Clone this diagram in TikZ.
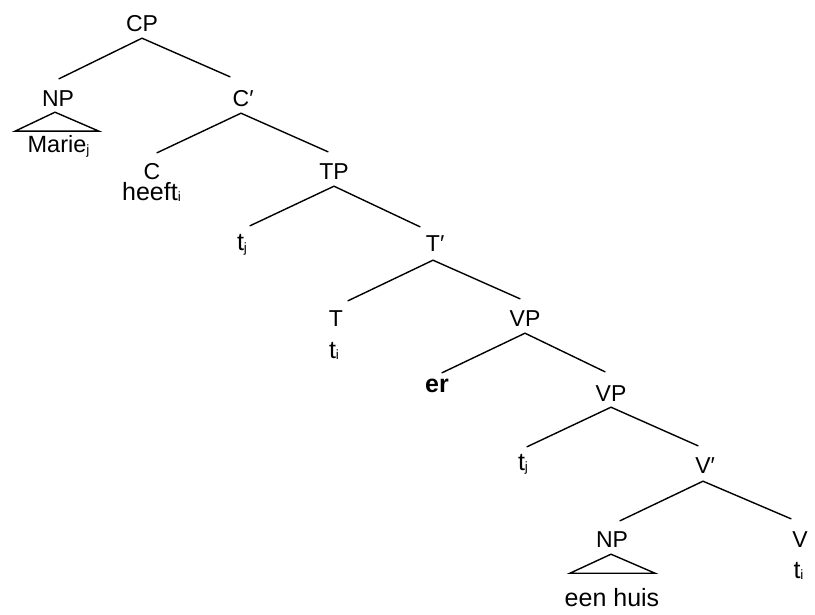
\documentclass[tikz,border=0pt]{standalone}
\usepackage{fontspec}
\setmainfont{Liberation Sans}
% small lowered index that does not widen its node
\newcommand\lowsub[1]{\rlap{\raisebox{-1.5pt}{\fontsize{13.5}{13.5}\selectfont #1}}}
% bar-level prime that does not shift the category's centre
\newcommand\barprime{\rlap{′}}
\begin{document}
\begin{tikzpicture}[x=1pt,y=-1pt,
  cat/.style={font=\fontsize{23}{23}\selectfont, inner sep=0pt,
              text height=16.5pt, text depth=0pt, anchor=base},
  word/.style={cat, font=\fontsize{25}{25}\selectfont},
  branch/.style={line width=1.4pt, line cap=round},
  roof/.style={line width=1.4pt, line join=miter}]
\useasboundingbox (0,0) rectangle (815,615);

% categories and words (x centre, baseline)
\node[cat]  (CP)    at (142,32)    {CP};
\node[cat]  (NPa)   at (58,107)    {NP};
\node[cat]  (Cbar)  at (241,107)   {C\barprime};
\node[cat]  (Mar)   at (57,153)    {\fontsize{23.5}{23.5}\selectfont Marie\lowsub{j}};
\node[cat]  (C)     at (152,180)   {C};
\node[word] (heeft) at (150,200.5) {heeft\lowsub{i}};
\node[cat]  (TP)    at (334,180)   {TP};
\node[word] (tja)   at (240.5,251) {t\lowsub{j}};
\node[cat]  (Tbar)  at (433,252)   {T\barprime};
\node[cat]  (T)     at (336,326)   {T};
\node[word] (tia)   at (332.5,358) {t\lowsub{i}};
\node[cat]  (VPa)   at (525,326)   {VP};
\node[word] (er)    at (437,392)   {\bfseries er};
\node[cat]  (VPb)   at (611,401)   {VP};
\node[word] (tjb)   at (521.5,470) {t\lowsub{j}};
\node[cat]  (Vbar)  at (703,473)   {V\barprime};
\node[cat]  (NPb)   at (612,547)   {NP};
\node[word] (huis)  at (612,606.5) {een huis};
\node[cat]  (V)     at (800,547)   {V};
\node[word] (tib)   at (797,578)   {t\lowsub{i}};

% branches
\draw[branch] ([yshift=-6pt]CP.south)   -- ([xshift=1pt,yshift=11.5pt]NPa.north);
\draw[branch] ([yshift=-6pt]CP.south)   -- ([xshift=-11pt,yshift=13.5pt]Cbar.north);
\draw[branch] ([yshift=-6pt]Cbar.south) -- ([xshift=5pt,yshift=10.5pt]C.north);
\draw[branch] ([yshift=-6pt]Cbar.south) -- ([xshift=-6pt,yshift=11.5pt]TP.north);
\draw[branch] ([yshift=-6pt]TP.south)   -- ([xshift=9.5pt,yshift=8.5pt]tja.north);
\draw[branch] ([yshift=-6pt]TP.south)   -- ([xshift=-13pt,yshift=8.5pt]Tbar.north);
\draw[branch] ([yshift=-8pt]Tbar.south) -- ([xshift=12pt,yshift=8.5pt]T.north);
\draw[branch] ([yshift=-8pt]Tbar.south) -- ([xshift=-5pt,yshift=10.5pt]VPa.north);
\draw[branch] ([yshift=-7pt]VPa.south)  -- ([xshift=5pt,yshift=2.5pt]er.north);
\draw[branch] ([yshift=-7pt]VPa.south)  -- ([xshift=-6pt,yshift=12.5pt]VPb.north);
\draw[branch] ([yshift=-6pt]VPb.south)  -- ([xshift=5.5pt,yshift=6.5pt]tjb.north);
\draw[branch] ([yshift=-6pt]VPb.south)  -- ([xshift=-5pt,yshift=10.5pt]Vbar.north);
\draw[branch] ([yshift=-8pt]Vbar.south) -- ([xshift=8pt,yshift=9.5pt]NPb.north);
\draw[branch] ([yshift=-8pt]Vbar.south) -- ([xshift=-9pt,yshift=11.5pt]V.north);

% roofs over unanalysed NPs
\draw[roof] ([xshift=-3pt,yshift=-5pt]NPa.south) -- ++(-40,19) -- ++(84,0) -- cycle;
\draw[roof] ([xshift=-1pt,yshift=-7pt]NPb.south) -- ++(-41,19) -- ++(85,0) -- cycle;
\end{tikzpicture}
\end{document}
